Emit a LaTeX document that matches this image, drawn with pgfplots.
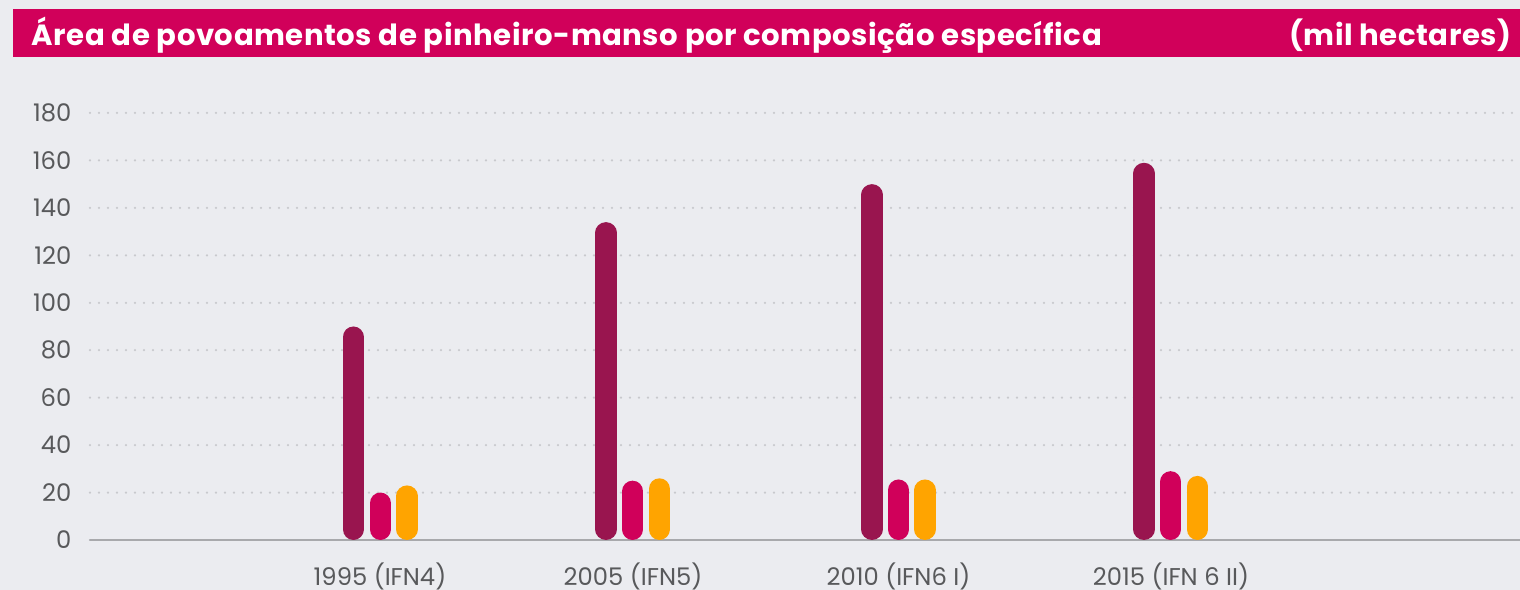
\documentclass[border=0pt]{standalone}
\usepackage{pgfplots}
\pgfplotsset{compat=1.18}
\usepackage{fontspec}
\setmainfont{Poppins}
\newfontfamily\titlefont[LetterSpace=1.8]{Poppins}
\definecolor{bgc}{HTML}{EBECF0}
\definecolor{titlec}{HTML}{D1005A}
\definecolor{darkbar}{HTML}{99154F}
\definecolor{magbar}{HTML}{D0005A}
\definecolor{orgbar}{HTML}{FFA400}
\definecolor{txtc}{HTML}{58595B}
\definecolor{gridc}{HTML}{C8C9CD}
\definecolor{basec}{HTML}{A8A9AC}
\tikzset{
  pill/.style={ycomb, mark=none, line width=2.13mm, line cap=round,
    shorten <=1.065mm, shorten >=1.065mm}
}
\begin{document}
\begin{tikzpicture}
\useasboundingbox (0,0) rectangle (152mm,59mm);
\fill[bgc] (0,0) rectangle (152mm,59mm);
\fill[titlec] (1.3mm,53.3mm) rectangle (152mm,58.1mm);
\node[anchor=base west, inner sep=0pt, text=white, font=\titlefont\fontsize{8.3}{9}\selectfont\bfseries]
  at (3.1mm,54.4mm) {Área de povoamentos de pinheiro-manso por composição específica};
\node[anchor=base east, inner sep=0pt, text=white, font=\titlefont\fontsize{8.3}{9}\selectfont\bfseries]
  at (151.2mm,54.4mm) {(mil hectares)};
\begin{axis}[
  at={(9mm,5mm)}, anchor=origin,
  scale only axis,
  width=143mm, height=42.7mm,
  xmin=90, xmax=1520, ymin=0, ymax=180,
  clip=false,
  axis line style={draw=none},
  major tick length=0pt,
  ytick={20,40,...,180},
  extra y ticks={0},
  extra y tick style={grid=major, major grid style={solid, draw=basec, line width=0.22mm}},
  ymajorgrids,
  major grid style={draw=gridc, line width=0.25mm, line cap=round, dash pattern=on 0pt off 0.9mm},
  xtick={380,633,898.5,1171},
  xticklabels={1995 (IFN4),2005 (IFN5),2010 (IFN6 I),2015 (IFN 6 II)},
  tick label style={font=\fontsize{6.9}{8}\selectfont, text=txtc},
  /pgf/number format/assume math mode=true,
  yticklabel style={anchor=east, inner sep=0pt, xshift=-1.8mm},
  xticklabel style={anchor=base, inner sep=0pt, yshift=-4.55mm},
]
% 1995 (IFN4)
\addplot[pill, darkbar] coordinates {(353.3,90)};
\addplot[pill, magbar]  coordinates {(380.3,20)};
\addplot[pill, orgbar]  coordinates {(407,23)};
% 2005 (IFN5)
\addplot[pill, darkbar] coordinates {(606,134)};
\addplot[pill, magbar]  coordinates {(632.7,25)};
\addplot[pill, orgbar]  coordinates {(659.3,26)};
% 2010 (IFN6 I)
\addplot[pill, darkbar] coordinates {(872,150)};
\addplot[pill, magbar]  coordinates {(898.5,25.5)};
\addplot[pill, orgbar]  coordinates {(925,25.5)};
% 2015 (IFN 6 II)
\addplot[pill, darkbar] coordinates {(1144,159)};
\addplot[pill, magbar]  coordinates {(1170.7,29)};
\addplot[pill, orgbar]  coordinates {(1197.3,27)};
\end{axis}
\end{tikzpicture}
\end{document}
